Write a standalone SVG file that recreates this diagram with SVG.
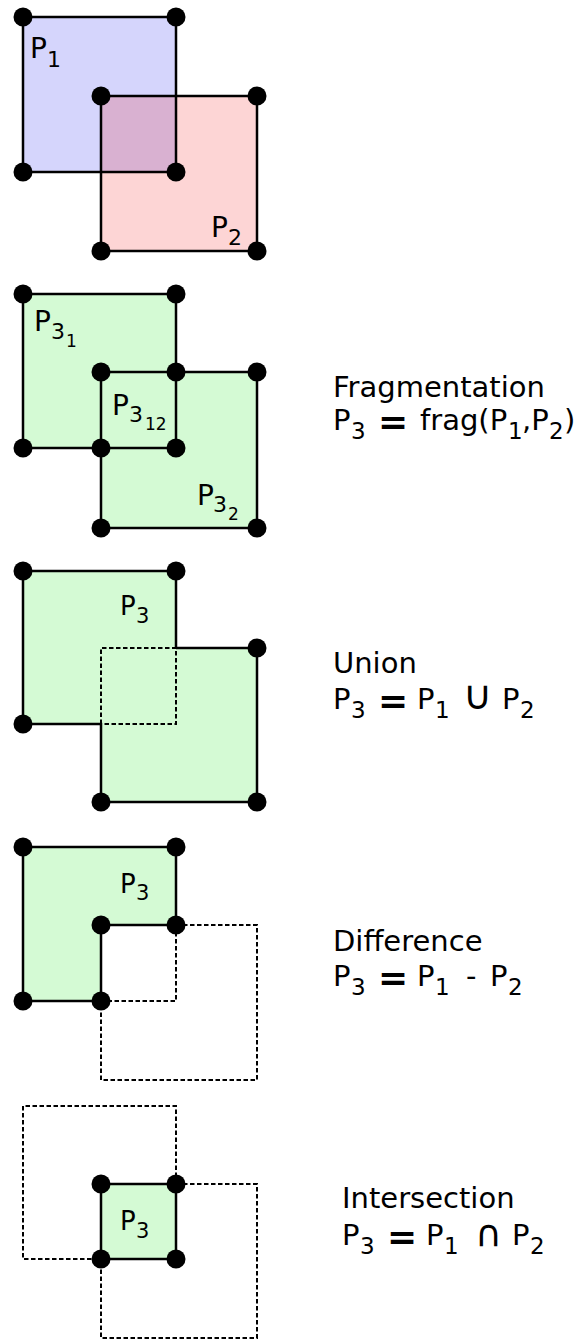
<svg xmlns="http://www.w3.org/2000/svg" width="587" height="1340" viewBox="0 0 587 1340">
<style>
text{font-family:"DejaVu Sans","Liberation Sans",sans-serif;fill:#000}
.P{font-size:28px}
.s{font-size:22px}
.ss{font-size:17px}
.Pb{font-size:26px}
.sb{font-size:21px}
.t{font-size:29px}
.ts{font-size:23px}
.eq{font-size:36px;font-weight:bold}
.op{font-size:40px}
.op2{font-size:37px}
.edge{fill:none;stroke:#000;stroke-width:2.5;stroke-linejoin:miter}
.dash{fill:none;stroke:#000;stroke-width:2;stroke-dasharray:4.5,2.5}
.dot{fill:#000}
.green{fill:#d4fad4}
</style>
<defs>
<circle id="d" r="9.5" class="dot"/>
</defs>

<g id="panel-original">
<rect x="23" y="17" width="153" height="155" fill="#d5d5fc"/>
<rect x="101" y="96" width="156" height="155" fill="#fdd5d5"/>
<rect x="101" y="96" width="75" height="76" fill="#d9b1d1"/>
<g id="edges-1">
<rect class="edge" x="23" y="17" width="153" height="155"/>
<rect class="edge" x="101" y="96" width="156" height="155"/>
</g>
<use href="#d" x="23" y="17"/><use href="#d" x="176" y="17"/><use href="#d" x="23" y="172"/><use href="#d" x="176" y="172"/>
<use href="#d" x="101" y="96"/><use href="#d" x="257" y="96"/><use href="#d" x="101" y="251"/><use href="#d" x="257" y="251"/>
<text class="P" x="30" y="58">P</text><text class="s" x="47" y="67">1</text>
<text class="P" x="211" y="237">P</text><text class="s" x="228" y="245">2</text>
</g>

<g id="panel-fragmentation">
<path class="green" d="M23,294H176V372H257V528H101V448H23Z"/>
<g id="edges-2">
<rect class="edge" x="23" y="294" width="153" height="154"/>
<rect class="edge" x="101" y="372" width="156" height="156"/>
</g>
<use href="#d" x="23" y="294"/><use href="#d" x="176" y="294"/>
<use href="#d" x="101" y="372"/><use href="#d" x="176" y="372"/><use href="#d" x="257" y="372"/>
<use href="#d" x="23" y="448"/><use href="#d" x="101" y="448"/><use href="#d" x="176" y="448"/>
<use href="#d" x="101" y="528"/><use href="#d" x="257" y="528"/>
<text class="P" x="34" y="331">P</text><text class="s" x="51" y="339">3</text><text class="ss" x="66" y="347">1</text>
<text class="P" x="112" y="415">P</text><text class="s" x="129" y="422">3</text><text class="ss" x="145" y="430">12</text>
<text class="P" x="197" y="505">P</text><text class="s" x="213" y="512">3</text><text class="ss" x="228" y="520">2</text>
<g id="label-fragmentation">
<text class="t" x="333" y="397">Fragmentation</text>
<text class="t" x="333" y="430">P</text><text class="ts" x="351" y="439">3</text>
<text class="eq" x="378" y="434">=</text>
<text class="t" x="420" y="430">frag(P</text><text class="ts" x="508" y="439">1</text>
<text class="t" x="522" y="430">,P</text><text class="ts" x="549" y="439">2</text><text class="t" x="564" y="430">)</text>
</g>
</g>

<g id="panel-union">
<path class="green" d="M23,571H176V648H257V802H101V724H23Z"/>
<path class="edge" d="M176,648V571H23V724H101V802H257V648H176"/>
<path class="dash" d="M101,724V648H176V724H101"/>
<use href="#d" x="23" y="571"/><use href="#d" x="176" y="571"/><use href="#d" x="257" y="648"/>
<use href="#d" x="23" y="724"/><use href="#d" x="101" y="802"/><use href="#d" x="257" y="802"/>
<text class="Pb" x="120" y="615">P</text><text class="sb" x="136" y="623">3</text>
<g id="label-union">
<text class="t" x="333" y="673">Union</text>
<text class="t" x="333" y="709">P</text><text class="ts" x="351" y="718">3</text>
<text class="eq" x="378" y="713">=</text>
<text class="t" x="417" y="709">P</text><text class="ts" x="435" y="718">1</text>
<text class="op" x="463" y="709">∪</text>
<text class="t" x="502" y="709">P</text><text class="ts" x="520" y="718">2</text>
</g>
</g>

<g id="panel-difference">
<path class="green" d="M23,847H176V925H101V1001H23Z"/>
<path class="edge" d="M23,847H176V925H101V1001H23Z"/>
<path class="dash" d="M176,925V1001H101M176,925H257V1080H101V1001"/>
<use href="#d" x="23" y="847"/><use href="#d" x="176" y="847"/><use href="#d" x="101" y="925"/>
<use href="#d" x="176" y="925"/><use href="#d" x="23" y="1001"/><use href="#d" x="101" y="1001"/>
<text class="Pb" x="120" y="893">P</text><text class="sb" x="136" y="900">3</text>
<g id="label-difference">
<text class="t" x="333" y="951">Difference</text>
<text class="t" x="333" y="986">P</text><text class="ts" x="351" y="995">3</text>
<text class="eq" x="378" y="990">=</text>
<text class="t" x="417" y="986">P</text><text class="ts" x="435" y="995">1</text>
<text class="t" x="466" y="986">-</text>
<text class="t" x="490" y="986">P</text><text class="ts" x="508" y="995">2</text>
</g>
</g>

<g id="panel-intersection">
<rect class="green" x="101" y="1184" width="75" height="75"/>
<rect class="edge" x="101" y="1184" width="75" height="75"/>
<path class="dash" d="M176,1184V1106H23V1259H101M176,1184H257V1338H101V1259"/>
<use href="#d" x="101" y="1184"/><use href="#d" x="176" y="1184"/><use href="#d" x="101" y="1259"/><use href="#d" x="176" y="1259"/>
<text class="Pb" x="120" y="1230">P</text><text class="sb" x="136" y="1238">3</text>
<g id="label-intersection">
<text class="t" x="342" y="1208">Intersection</text>
<text class="t" x="342" y="1245">P</text><text class="ts" x="360" y="1254">3</text>
<text class="eq" x="387" y="1249">=</text>
<text class="t" x="426" y="1245">P</text><text class="ts" x="444" y="1254">1</text>
<text class="op2" x="475" y="1246">∩</text>
<text class="t" x="512" y="1245">P</text><text class="ts" x="530" y="1254">2</text>
</g>
</g>
</svg>
